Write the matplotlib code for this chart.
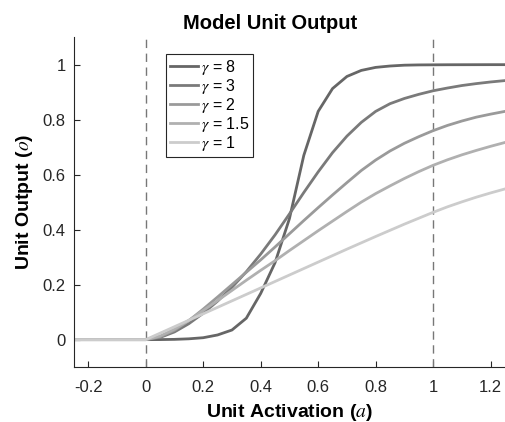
import matplotlib
matplotlib.use("Agg")
import matplotlib.pyplot as plt

plt.rcParams['font.family'] = ['Liberation Sans', 'DejaVu Sans']
plt.rcParams['mathtext.fontset'] = 'stix'

# activation grid (step 0.05) and unit outputs
act = [-0.25, -0.2, -0.15, -0.1, -0.05, 0.0, 0.05, 0.1, 0.15, 0.2, 0.25, 0.3,
       0.35, 0.4, 0.45, 0.5, 0.55, 0.6, 0.65, 0.7, 0.75, 0.8, 0.85, 0.9,
       0.95, 1.0, 1.05, 1.1, 1.15, 1.2, 1.25]
zeros = [0, 0, 0, 0, 0, 0]

out_g8 = zeros + [0.0002, 0.001, 0.003, 0.007, 0.017, 0.035, 0.078, 0.168, 0.28,
                  0.44, 0.67, 0.83, 0.913, 0.957, 0.979, 0.99, 0.995, 0.998,
                  0.999, 0.9993, 0.9996, 0.9997, 0.9998, 0.9999, 0.9999]
out_g3 = zeros + [0.008, 0.028, 0.058, 0.096, 0.14, 0.19, 0.247, 0.311, 0.381,
                  0.457, 0.535, 0.61, 0.68, 0.74, 0.79, 0.83, 0.858, 0.877,
                  0.892, 0.905, 0.915, 0.924, 0.931, 0.937, 0.942]
out_g2 = zeros + [0.01, 0.034, 0.069, 0.111, 0.155, 0.2, 0.245, 0.29, 0.337,
                  0.385, 0.433, 0.48, 0.526, 0.571, 0.615, 0.653, 0.686, 0.714,
                  0.738, 0.76, 0.779, 0.795, 0.809, 0.82, 0.83]
out_g15 = zeros + [0.013, 0.038, 0.07, 0.106, 0.142, 0.179, 0.216, 0.252, 0.287,
                   0.324, 0.36, 0.396, 0.431, 0.466, 0.5, 0.531, 0.559, 0.586,
                   0.611, 0.634, 0.654, 0.672, 0.688, 0.703, 0.717]
out_g1 = zeros + [0.0235, 0.047, 0.0705, 0.094, 0.1175, 0.141, 0.1645, 0.188, 0.2115,
                  0.235, 0.2585, 0.282, 0.3055, 0.329, 0.352, 0.375, 0.3975, 0.42,
                  0.4415, 0.463, 0.483, 0.501, 0.518, 0.5335, 0.548]

series = [out_g8, out_g3, out_g2, out_g15, out_g1]
labels = [r'$\gamma$ = 8', r'$\gamma$ = 3', r'$\gamma$ = 2', r'$\gamma$ = 1.5', r'$\gamma$ = 1']
colors = ['#666666', '#7a7a7a', '#9a9a9a', '#b0b0b0', '#cccccc']

fig = plt.figure(figsize=(5.06, 4.22), dpi=100)
ax = fig.add_axes([0.146, 0.130, 0.852, 0.782])

ax.axvline(0, color='#777777', linestyle=(0, (6, 4)), linewidth=1.0)
ax.axvline(1, color='#777777', linestyle=(0, (6, 4)), linewidth=1.0)

for vals, lab, col in zip(series, labels, colors):
    ax.plot(act, vals, color=col, linewidth=2.0, label=lab)

ax.set_xlim(-0.25, 1.25)
ax.set_ylim(-0.1, 1.1)
ax.set_xticks([-0.2, 0, 0.2, 0.4, 0.6, 0.8, 1, 1.2])
ax.set_xticklabels(['-0.2', '0', '0.2', '0.4', '0.6', '0.8', '1', '1.2'])
ax.set_yticks([0, 0.2, 0.4, 0.6, 0.8, 1])
ax.set_yticklabels(['0', '0.2', '0.4', '0.6', '0.8', '1'])
ax.tick_params(direction='in', length=4, width=0.8, labelsize=12,
               colors='#262626')
ax.tick_params(axis='x', pad=9)
ax.tick_params(axis='y', pad=6)
ax.spines['top'].set_visible(False)
ax.spines['right'].set_visible(False)
for s in ['left', 'bottom']:
    ax.spines[s].set_color('#262626')
    ax.spines[s].set_linewidth(0.8)

ax.set_title('Model Unit Output', fontsize=14.5, fontweight='bold', x=0.455, pad=6)
ax.set_xlabel(r'Unit Activation ($a$)', fontsize=14, fontweight='bold', labelpad=5)
ax.set_ylabel(r'Unit Output ($o$)', fontsize=14, fontweight='bold', labelpad=5)

leg = ax.legend(loc='upper left', bbox_to_anchor=(0.213, 0.95), fontsize=11.5,
                handlelength=1.8, handletextpad=0.15, labelspacing=0.0,
                borderpad=0.25, fancybox=False, framealpha=1, borderaxespad=0)
leg.get_frame().set_edgecolor('#262626')
leg.get_frame().set_linewidth(0.8)

fig.savefig('out.png', dpi=100)
